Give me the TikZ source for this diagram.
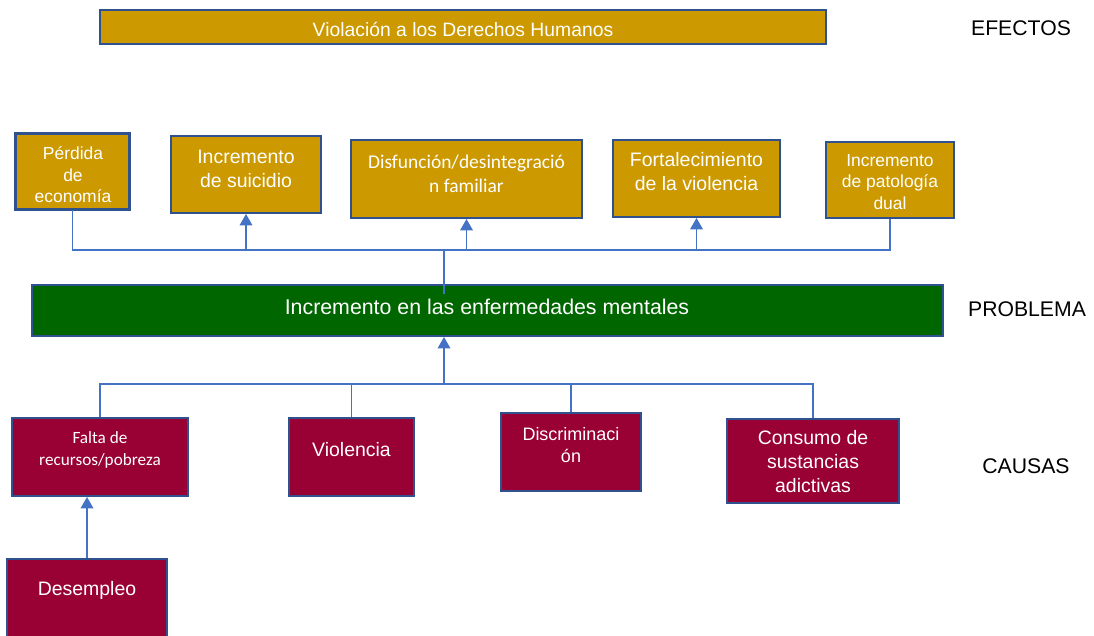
\documentclass[tikz,border=0pt]{standalone}
\usepackage{fontspec}
\setmainfont{Liberation Sans}
\newfontfamily\calib{Carlito}
\usetikzlibrary{arrows.meta}
\definecolor{gold}{RGB}{204,153,0}
\definecolor{dgreen}{RGB}{0,102,0}
\definecolor{crim}{RGB}{153,0,51}
\definecolor{bord}{RGB}{47,82,143}
\definecolor{conn}{RGB}{68,114,196}
\begin{document}
\begin{tikzpicture}[x=0.75pt,y=-0.75pt,
  sz/.style 2 args={minimum width=#1*0.75pt, minimum height=#2*0.75pt},
  boxbase/.style={draw=bord, line width=1.5pt, inner sep=0pt},
  goldbox/.style={boxbase, fill=gold},
  greenbox/.style={boxbase, fill=dgreen},
  crimbox/.style={boxbase, fill=crim},
  txt/.style={text=white, align=center, inner sep=0pt, font=\fontsize{14.6}{18}\selectfont},
  txts/.style={text=white, align=center, inner sep=0pt, font=\fontsize{13.1}{16.2}\selectfont},
  txtc/.style={text=white, align=center, inner sep=0pt, font=\calib\fontsize{14.6}{18}\selectfont},
  txtcs/.style={text=white, align=center, inner sep=0pt, font=\calib\fontsize{12.9}{16.5}\selectfont},
  lbl/.style={inner sep=0pt, font=\fontsize{15.9}{18}\selectfont},
  conn/.style={draw=conn, line width=0.9pt},
  arr/.style={conn, -{Triangle[width=9.5pt,length=8.5pt]}, fill=conn}
]
\useasboundingbox (0,0) rectangle (1094,635);

% top effect bar
\node[goldbox, sz={726}{34}] (top) at (463,27) {};
\node[txt, font=\fontsize{14.5}{18}\selectfont] (topt) at (463,29) {Violación a los Derechos Humanos};

% labels
\node[lbl] (lef) at (1021,28) {EFECTOS};
\node[lbl] (lpr) at (1027,309) {PROBLEMA};
\node[lbl] (lca) at (1026,466) {CAUSAS};

% effect boxes
\node[goldbox, sz={113}{75}] (e1) at (72.5,171.5) {};
\node[goldbox, sz={150}{77}] (e2) at (246,174.5) {};
\node[goldbox, sz={231}{78}] (e3) at (466.5,179) {};
\node[goldbox, sz={167}{77}] (e4) at (696.5,178.5) {};
\node[goldbox, sz={128}{76}] (e5) at (890,180) {};

\node[txts] (e1t) at (73,175) {Pérdida\\de\\economía};
\draw[draw=bord, line width=1.5pt] (e1.south west) rectangle (e1.north east);
\node[txt] (e2t) at (246,169) {Incremento\\de suicidio};
\node[txtc] (e3t) at (466.5,174) {Disfunción/desintegració\\n familiar};
\node[txt] (e4t) at (696.5,172) {Fortalecimiento\\de la violencia};
\node[txts] (e5t) at (890,182) {Incremento\\de patología\\dual};

% problem bar
\node[greenbox, sz={911}{51}] (prob) at (487.5,310.5) {};
\node[txt, font=\fontsize{16}{18}\selectfont] (probt) at (487,307) {Incremento en las enfermedades mentales};

% cause boxes
\node[crimbox, sz={176}{78}] (c1) at (100,457) {};
\node[crimbox, sz={125}{78}] (c2) at (351.5,457) {};
\node[crimbox, sz={140}{78}] (c3) at (571,452) {};
\node[crimbox, sz={172}{84}] (c4) at (813,461) {};
\node[crimbox, sz={160}{84}] (d) at (87,601) {};

\node[txtcs] (c1t) at (100,450) {Falta de\\recursos/pobreza};
\node[txt] (c2t) at (351.5,450) {Violencia};
\node[txts, font=\fontsize{13.5}{17}\selectfont] (c3t) at (571,445) {Discriminaci\\ón};
\node[txt] (c4t) at (813,462) {Consumo de\\sustancias\\adictivas};
\node[txt] (dt) at (87,590) {Desempleo};

% hubs
\coordinate (hubT) at (444,250);
\coordinate (pin) at (444,294);
\coordinate (hubB) at (444,384);

% effect connectors
\draw[conn] (e1.south) |- (hubT);
\draw[conn] (e5.south) |- (hubT);
\draw[conn] (hubT) -- (pin);
\draw[arr] (e2.south |- hubT) -- (e2.south);
\draw[arr] (e3.south |- hubT) -- (e3.south);
\draw[arr] (e4.south |- hubT) -- (e4.south);

% cause connectors
\draw[arr] (hubB) -- (hubB |- prob.south);
\draw[conn] (c1.north) |- (hubB);
\draw[conn] (c4.north) |- (hubB);
\draw[conn] (c2.north) -- (c2.north |- hubB);
\draw[conn] (c3.north) -- (c3.north |- hubB);
\draw[arr] (d.north) -- (d.north |- c1.south);
\end{tikzpicture}
\end{document}
